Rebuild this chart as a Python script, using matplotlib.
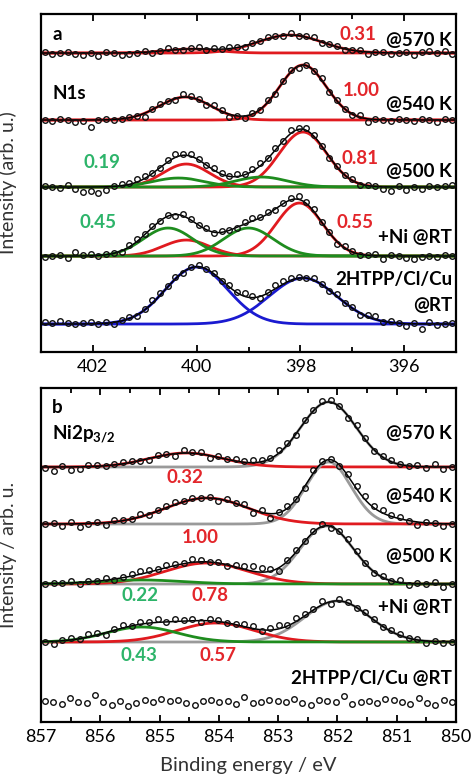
import numpy as np
import matplotlib.pyplot as plt
from matplotlib.ticker import MultipleLocator

plt.rcParams['font.family'] = ['Lato', 'DejaVu Sans']
plt.rcParams['mathtext.fontset'] = 'custom'
plt.rcParams['mathtext.rm'] = 'Lato'
plt.rcParams['mathtext.bf'] = 'Lato:bold'

# component species -> line colour (None = included in the envelope only)
COLORS = {
    'NiTPP': '#e01a1f',
    'mixed': '#1e8c1e',
    '2HTPP': '#1a1ad0',
    'Ni_main': '#9a9a9a',
    'tail': None,
}
RED_TXT = '#e3262b'
GREEN_TXT = '#2db46a'

# ---- N1s ----
N1S_LABELS = ['@570 K', '@540 K', '@500 K', '+Ni @RT', '2HTPP/Cl/Cu\n@RT']
N1S_OFFSETS = [299, 232, 165, 96, 28]
N1S_CENTERS = [[400.1, 398.2],
               [400.22, 397.95],
               [400.2, 397.95, 400.35, 398.75],
               [400.2, 398.02, 400.55, 399.0],
               [400.0, 397.95]]
N1S_HEIGHTS = [[4, 18],
               [23, 55],
               [23, 55, 9, 10],
               [16, 53, 28, 28],
               [57, 46]]
N1S_WIDTHS = [[0.5, 0.62],
              [0.5, 0.45],
              [0.45, 0.46, 0.5, 0.5],
              [0.45, 0.45, 0.48, 0.48],
              [0.6, 0.65]]
N1S_KINDS = [['NiTPP', 'NiTPP'],
             ['NiTPP', 'NiTPP'],
             ['NiTPP', 'NiTPP', 'mixed', 'mixed'],
             ['NiTPP', 'NiTPP', 'mixed', 'mixed'],
             ['2HTPP', '2HTPP']]
# measured points minus fit envelope, high BE -> low BE
N1S_RESID = [
    [1, -1, 0, 1, -1, -2, 0, -3, 1, 0, -2, -1, 0, 1, -1, 0, 2, 0, -1, 1, 2, -1, 1, 0, 2, 1, -1,
     1, 0, 2, 1, -1, 2, 0, 1, 2, -1, 0, 1, -1, 0, 1, -2, 0, 1, -1, 0, 1, -2, 1, 2, 0, 2, -1],
    [0, -1, 1, 0, -2, -1, -7, 0, 1, -1, 0, 1, 0, -4, 1, 2, 1, -1, 3, 2, 1, -2, 2, 1, -3, 0, -2,
     1, 0, 2, -1, 1, 2, -2, 1, 0, 2, -1, 1, 0, -1, 2, -3, 1, 0, -1, 1, 0, -1, 1, 0, -2, 1, 0],
    [1, 0, -1, 2, -2, -5, -4, -6, -3, 0, 2, 1, 3, 2, 1, 0, 2, 3, 1, 2, 1, 0, 2, 1, 0, 3, 1,
     2, 3, 1, 2, 0, 3, 1, 2, 1, 0, -1, 1, 0, 2, -1, 1, 0, -2, -4, 1, -3, 0, -2, 1, 0, 1, 2],
    [-1, 0, 1, -2, 4, 1, 2, -1, 1, 0, -1, 2, 3, 1, 2, 0, 1, -2, 2, 1, 0, 2, -1, 1, 0, -1, 2,
     3, 1, 2, -1, 1, 2, 3, 1, 2, 0, 1, -2, 2, 1, -1, 0, 2, -3, 1, 0, -2, -3, -1, 0, -1, 1, 0],
    [2, 1, 3, 1, 0, 1, 2, 0, 1, -2, 1, 2, -1, 1, 3, 2, 1, 2, -1, 1, 2, 0, 1, -1, 2, 1, 3,
     2, -2, 1, 4, 3, 2, 1, 0, 2, 1, -1, 2, 0, 1, -2, 2, 3, -1, 1, 0, -2, 1, -5, 2, -1, 0, 1],
]

# ---- Ni2p3/2 ----
NI_LABELS = ['@570 K', '@540 K', '@500 K', '+Ni @RT', '2HTPP/Cl/Cu @RT']
NI_OFFSETS = [255, 198, 138, 80, 20]
NI_CENTERS = [[852.15, 854.55],
              [852.15, 851.4, 854.2],
              [852.18, 854.2, 855.3],
              [852.0, 854.05, 855.3],
              []]
NI_HEIGHTS = [[65, 14],
              [62, 8, 26],
              [58, 21, 4],
              [41, 19, 15],
              []]
NI_WIDTHS = [[0.47, 0.62],
             [0.38, 0.45, 0.7],
             [0.45, 0.7, 0.7],
             [0.55, 0.65, 0.6],
             []]
NI_KINDS = [['Ni_main', 'NiTPP'],
            ['Ni_main', 'tail', 'NiTPP'],
            ['Ni_main', 'NiTPP', 'mixed'],
            ['Ni_main', 'NiTPP', 'mixed'],
            []]
NI_RESID = [
    [-1, -4, 1, -3, -2, 2, 1, 0, 1, 2, 1, 0, -1, 2, 1, -2, 3, 1, 2, -2, 1, 0, 2, 1,
     3, 2, 1, 3, 2, -1, 2, 1, 3, 2, 1, -2, 3, 2, -1, 1, 2, 1, 0, 2, -1, 3, -2, 0],
    [0, 1, -2, 2, -3, 0, 1, -2, 2, 1, 0, 3, -1, 1, 2, 3, 1, 2, 0, 1, -2, 2, 0, 3,
     -3, 2, -4, 1, 2, 0, -1, 3, 2, 1, -1, 2, 3, 4, 2, 3, 1, 2, 0, -3, 1, 0, -2, 0],
    [0, 1, 0, 2, -2, 1, 0, 2, -1, 1, 2, 3, 2, 1, 3, 2, 1, 3, 2, 0, 1, -1, 2, 3,
     5, 4, 2, -3, 1, 2, 0, 1, 2, -2, 1, 3, 2, 1, -1, 2, 0, 3, -2, 1, 0, 2, -3, 0],
    [0, -3, 1, 2, 0, 3, 2, -2, 1, 3, 0, 2, 1, 3, 0, 2, 1, 2, -1, 2, 1, 0, 1, 3,
     2, -1, 2, 4, 1, 3, 2, 1, 4, -2, 2, 1, 0, 2, 1, -1, 2, 1, 0, 1, -2, 1, -1, 0],
    [1, 0, -2, 4, 0, -1, 7, 0, -3, 1, -4, -1, 2, 0, 3, 1, 2, -1, -3, 1, 2, 0, 1, -2, 5,
     -1, 0, 2, 1, 0, 3, -1, -3, 2, 1, 0, 6, -2, 0, 1, -1, 3, 2, 0, -2, 4, -1, -3, 2, 0],
]


def gauss(x, c, h, w):
    return h * np.exp(-(x - c) ** 2 / (2 * w ** 2))


def envelope(x, cs, hs, ws):
    tot = np.zeros_like(x)
    for c, h, w in zip(cs, hs, ws):
        tot = tot + gauss(x, c, h, w)
    return tot


def draw_spectra(ax, lo, hi, offsets, centers, heights, widths, kinds, resid):
    fine = np.linspace(lo, hi, 800)
    for off, cs, hs, ws, ks, rs in zip(offsets, centers, heights, widths, kinds, resid):
        for c, h, w, k in zip(cs, hs, ws, ks):
            if COLORS[k] is None:
                continue
            ax.plot(fine, off + gauss(fine, c, h, w), color=COLORS[k], lw=2.0, zorder=2)
        if cs:
            ax.plot(fine, off + envelope(fine, cs, hs, ws), color='black', lw=1.1, zorder=3)
        xd = np.linspace(hi - 0.07, lo + 0.07, len(rs))
        yd = off + envelope(xd, cs, hs, ws) + np.array(rs)
        ax.plot(xd, yd, 'o', ms=4, mfc='none', mec='#111111', mew=1.0, zorder=4)


def style_axis(ax, lo, hi, major, minor):
    ax.set_xlim(hi, lo)
    ax.xaxis.set_major_locator(MultipleLocator(major))
    ax.xaxis.set_minor_locator(MultipleLocator(minor))
    ax.set_yticks([])
    ax.tick_params(axis='x', which='both', direction='in', top=True, width=1.3,
                   labelsize=13, pad=5)
    ax.tick_params(axis='x', which='major', length=5)
    ax.tick_params(axis='x', which='minor', length=3.5)
    for sp in ax.spines.values():
        sp.set_linewidth(1.6)


fig = plt.figure(figsize=(4.76, 7.83), dpi=100)
ax_a = fig.add_axes([0.0861, 0.5504, 0.872, 0.4317])
ax_b = fig.add_axes([0.0861, 0.0779, 0.872, 0.4266])

# panel a: N1s
draw_spectra(ax_a, 395, 403, N1S_OFFSETS, N1S_CENTERS, N1S_HEIGHTS, N1S_WIDTHS,
             N1S_KINDS, N1S_RESID)
style_axis(ax_a, 395, 403, 2, 1)
ax_a.set_ylim(0, 338)
ax_a.set_ylabel('Intensity (arb. u.)', fontsize=14, color='#333333')
ax_a.yaxis.set_label_coords(-0.058, 0.5)

bold = dict(fontsize=13.5, fontweight='bold', transform=ax_a.transAxes, va='center')
ax_a.text(0.027, 0.938, 'a', ha='left', **bold)
ax_a.text(0.027, 0.766, 'N1s', ha='left', **bold)
label_y = [0.923, 0.731, 0.533, 0.340, 0.176]
for lab, y in zip(N1S_LABELS, label_y):
    ax_a.text(0.99, y, lab, ha='right', linespacing=1.6, **bold)
ax_a.text(0.807, 0.938, '0.31', ha='right', color=RED_TXT, **bold)
ax_a.text(0.815, 0.775, '1.00', ha='right', color=RED_TXT, **bold)
ax_a.text(0.812, 0.574, '0.81', ha='right', color=RED_TXT, **bold)
ax_a.text(0.80, 0.382, '0.55', ha='right', color=RED_TXT, **bold)
ax_a.text(0.148, 0.562, '0.19', ha='center', color=GREEN_TXT, **bold)
ax_a.text(0.138, 0.382, '0.45', ha='center', color=GREEN_TXT, **bold)

# panel b: Ni2p3/2
draw_spectra(ax_b, 850, 857, NI_OFFSETS, NI_CENTERS, NI_HEIGHTS, NI_WIDTHS,
             NI_KINDS, NI_RESID)
style_axis(ax_b, 850, 857, 1, 0.5)
ax_b.set_ylim(0, 334)
ax_b.set_ylabel('Intensity / arb. u.', fontsize=14, color='#333333')
ax_b.yaxis.set_label_coords(-0.058, 0.5)
ax_b.set_xlabel('Binding energy / eV', fontsize=14.5, color='#333333')
ax_b.xaxis.set_label_coords(0.5, -0.105)

bold = dict(fontsize=13.5, fontweight='bold', transform=ax_b.transAxes, va='center')
ax_b.text(0.027, 0.943, 'b', ha='left', **bold)
ax_b.text(0.027, 0.862, r'Ni2p$_{\mathbf{3/2}}$', ha='left', **bold)
label_y = [0.865, 0.674, 0.494, 0.344, 0.129]
for lab, y in zip(NI_LABELS, label_y):
    ax_b.text(0.99, y, lab, ha='right', **bold)
ax_b.text(0.347, 0.731, '0.32', ha='center', color=RED_TXT, **bold)
ax_b.text(0.383, 0.551, '1.00', ha='center', color=RED_TXT, **bold)
ax_b.text(0.407, 0.380, '0.78', ha='center', color=RED_TXT, **bold)
ax_b.text(0.427, 0.198, '0.57', ha='center', color=RED_TXT, **bold)
ax_b.text(0.239, 0.380, '0.22', ha='center', color=GREEN_TXT, **bold)
ax_b.text(0.236, 0.198, '0.43', ha='center', color=GREEN_TXT, **bold)

fig.savefig('out.png', dpi=100)
